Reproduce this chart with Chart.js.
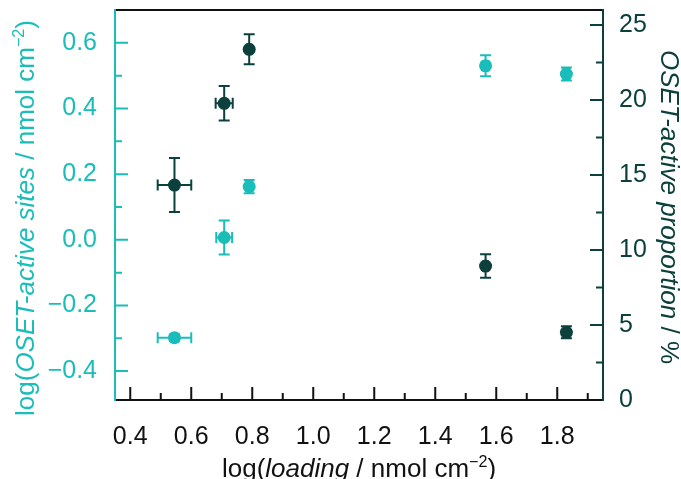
<!DOCTYPE html>
<html><head><meta charset="utf-8">
<script src="https://cdn.jsdelivr.net/npm/chart.js@4"></script>
<style>html,body{margin:0;padding:0;background:#fff}#wrap{width:681px;height:479px}</style>
</head><body><div id="wrap"><canvas id="c" width="681" height="479"></canvas></div>
<script>
// ---- data ----
const loading        = [0.545, 0.708, 0.790, 1.565, 1.830];
const sitesXErr      = [0.055, 0.026, 0.010, 0.010, 0.010];
const logSites       = [-0.298, 0.007, 0.162, 0.530, 0.505];
const logSitesErr    = [0.010, 0.052, 0.020, 0.032, 0.020];
const proportion     = [14.33, 19.78, 23.38, 8.93, 4.51];
const proportionErr  = [1.80, 1.15, 1.00, 0.78, 0.40];
const propXErr       = [0.055, 0.028, 0.008, 0.008, 0.008];

const xTicks = [0.4, 0.6, 0.8, 1.0, 1.2, 1.4, 1.6, 1.8];
const xTickLabels = ['0.4','0.6','0.8','1.0','1.2','1.4','1.6','1.8'];
const xMinor = [0.5, 0.7, 0.9, 1.1, 1.3, 1.5, 1.7, 1.9];
const yTicks = [-0.4, -0.2, 0.0, 0.2, 0.4, 0.6];
const yTickLabels = ['\u22120.4','\u22120.2','0.0','0.2','0.4','0.6'];
const yMinor = [-0.3, -0.1, 0.1, 0.3, 0.5];
const y2Ticks = [0, 5, 10, 15, 20, 25];
const y2TickLabels = ['0','5','10','15','20','25'];
const y2Minor = [2.5, 7.5, 12.5, 17.5, 22.5];

const LIGHT = '#19bdb9';
const DARK = '#0b403c';
const FONT = "'Liberation Sans', Arial, Helvetica, sans-serif";

const xTitle = [{t:'log('},{t:'loading',i:1},{t:' / nmol cm'},{t:'\u22122',sup:1},{t:')'}];
const yTitle = [{t:'log('},{t:'OSET-active sites',i:1},{t:' / nmol cm'},{t:'\u22122',sup:1},{t:')'}];
const y2Title = [{t:'OSET-active proportion',i:1},{t:' / %'}];

function pts(xs, ys, xe, ye){ return xs.map((x,k)=>({x:x, y:ys[k], xe:xe[k], ye:ye[k]})); }

const errPlugin = {
  id:'err',
  beforeDatasetsDraw(chart){
    const ctx = chart.ctx, xs = chart.scales.x, cap = 5.5;
    chart.data.datasets.forEach(ds=>{
      const ys = chart.scales[ds.yAxisID];
      ctx.save(); ctx.strokeStyle = ds.backgroundColor; ctx.lineWidth = 2;
      ds.data.forEach(p=>{
        const px = xs.getPixelForValue(p.x), py = ys.getPixelForValue(p.y);
        const x0 = xs.getPixelForValue(p.x-p.xe), x1 = xs.getPixelForValue(p.x+p.xe);
        const y0 = ys.getPixelForValue(p.y-p.ye), y1 = ys.getPixelForValue(p.y+p.ye);
        ctx.beginPath();
        ctx.moveTo(x0,py); ctx.lineTo(x1,py);
        ctx.moveTo(x0,py-cap); ctx.lineTo(x0,py+cap);
        ctx.moveTo(x1,py-cap); ctx.lineTo(x1,py+cap);
        ctx.moveTo(px,y0); ctx.lineTo(px,y1);
        ctx.moveTo(px-cap,y0); ctx.lineTo(px+cap,y0);
        ctx.moveTo(px-cap,y1); ctx.lineTo(px+cap,y1);
        ctx.stroke();
      });
      ctx.restore();
    });
  }
};

function drawRich(ctx, segs, size){
  let total = 0;
  const ms = segs.map(s=>{
    const sz = s.sup ? size*0.62 : size;
    const f = (s.i ? 'italic ' : '') + sz + 'px ' + FONT;
    ctx.font = f; const w = ctx.measureText(s.t).width; total += w;
    return {f, w, s};
  });
  let x = -total/2;
  ms.forEach(m=>{ ctx.font = m.f; ctx.fillText(m.s.t, x, m.s.sup ? -size*0.40 : 0); x += m.w; });
}

const framePlugin = {
  id:'frame',
  afterDraw(chart){
    const ctx = chart.ctx, a = chart.chartArea;
    const xs = chart.scales.x, ys = chart.scales.y, y2 = chart.scales.y2;
    ctx.save();
    ctx.lineWidth = 2;
    const tick = (color, list) => { ctx.strokeStyle = color; ctx.beginPath(); list(); ctx.stroke(); };
    tick('#111', ()=>{
      xTicks.forEach(v=>{const p=xs.getPixelForValue(v); ctx.moveTo(p,a.bottom); ctx.lineTo(p,a.bottom-13);});
      xMinor.forEach(v=>{const p=xs.getPixelForValue(v); ctx.moveTo(p,a.bottom); ctx.lineTo(p,a.bottom-7);});
    });
    tick(LIGHT, ()=>{
      yTicks.forEach(v=>{const p=ys.getPixelForValue(v); ctx.moveTo(a.left,p); ctx.lineTo(a.left+13,p);});
      yMinor.forEach(v=>{const p=ys.getPixelForValue(v); ctx.moveTo(a.left,p); ctx.lineTo(a.left+7,p);});
    });
    tick(DARK, ()=>{
      y2Ticks.forEach(v=>{const p=y2.getPixelForValue(v); ctx.moveTo(a.right,p); ctx.lineTo(a.right-13,p);});
      y2Minor.forEach(v=>{const p=y2.getPixelForValue(v); ctx.moveTo(a.right,p); ctx.lineTo(a.right-7,p);});
    });
    ctx.strokeStyle = '#111';
    ctx.beginPath(); ctx.moveTo(a.left,a.top); ctx.lineTo(a.right,a.top);
    ctx.moveTo(a.left,a.bottom); ctx.lineTo(a.right,a.bottom); ctx.stroke();
    ctx.strokeStyle = LIGHT; ctx.beginPath(); ctx.moveTo(a.left,a.top-1); ctx.lineTo(a.left,a.bottom+1); ctx.stroke();
    ctx.strokeStyle = DARK; ctx.beginPath(); ctx.moveTo(a.right,a.top-1); ctx.lineTo(a.right,a.bottom+1); ctx.stroke();
    ctx.textBaseline = 'alphabetic';
    ctx.fillStyle = '#111';
    ctx.save(); ctx.translate((a.left+a.right)/2, 477); drawRich(ctx, xTitle, 26); ctx.restore();
    ctx.fillStyle = LIGHT;
    ctx.save(); ctx.translate(34, 218); ctx.rotate(-Math.PI/2); drawRich(ctx, yTitle, 26); ctx.restore();
    ctx.fillStyle = DARK;
    ctx.save(); ctx.translate(661, 207); ctx.rotate(Math.PI/2); drawRich(ctx, y2Title, 26); ctx.restore();
    ctx.restore();
  }
};

const tickFont = {family: FONT, size: 25};
const zeroPad = s => { s.paddingTop = 0; s.paddingBottom = 0; s.paddingLeft = 0; s.paddingRight = 0; };

new Chart(document.getElementById('c'), {
  type: 'scatter',
  data: {
    datasets: [
      {label:'log(OSET-active sites)', data: pts(loading, logSites, sitesXErr, logSitesErr), yAxisID:'y',
       backgroundColor: LIGHT, borderWidth: 0, pointRadius: 6.5, pointHoverRadius: 6.5},
      {label:'OSET-active proportion', data: pts(loading, proportion, propXErr, proportionErr), yAxisID:'y2',
       backgroundColor: DARK, borderWidth: 0, pointRadius: 6.5, pointHoverRadius: 6.5}
    ]
  },
  options: {
    responsive: false, animation: false, devicePixelRatio: 1,
    layout: {padding: {top: 10, left: 0, right: 0, bottom: 0}},
    plugins: {legend: {display: false}, tooltip: {enabled: false}},
    scales: {
      x: {type:'linear', position:'bottom', min: 0.35, max: 1.95,
          grid:{display:false, drawTicks:false}, border:{display:false},
          afterBuildTicks: s => { s.ticks = xTicks.map(v=>({value:v})); },
          afterFit: s => { s.height = 79; zeroPad(s); },
          ticks:{autoSkip:false, maxRotation:0, padding:22, color:'#111', font: tickFont,
                 callback: v => xTickLabels[xTicks.indexOf(v)]}},
      y: {type:'linear', position:'left', min: -0.488, max: 0.70,
          grid:{display:false, drawTicks:false}, border:{display:false},
          afterBuildTicks: s => { s.ticks = yTicks.map(v=>({value:v})); },
          afterFit: s => { s.width = 115; zeroPad(s); },
          ticks:{autoSkip:false, padding:18, color: LIGHT, font: tickFont,
                 callback: v => yTickLabels[yTicks.indexOf(v)]}},
      y2: {type:'linear', position:'right', min: 0, max: 26,
          grid:{display:false, drawTicks:false}, border:{display:false},
          afterBuildTicks: s => { s.ticks = y2Ticks.map(v=>({value:v})); },
          afterFit: s => { s.width = 78; zeroPad(s); },
          ticks:{autoSkip:false, padding:16, color: DARK, font: tickFont,
                 callback: v => y2TickLabels[y2Ticks.indexOf(v)]}}
    }
  },
  plugins: [errPlugin, framePlugin]
});
</script>
</body></html>
